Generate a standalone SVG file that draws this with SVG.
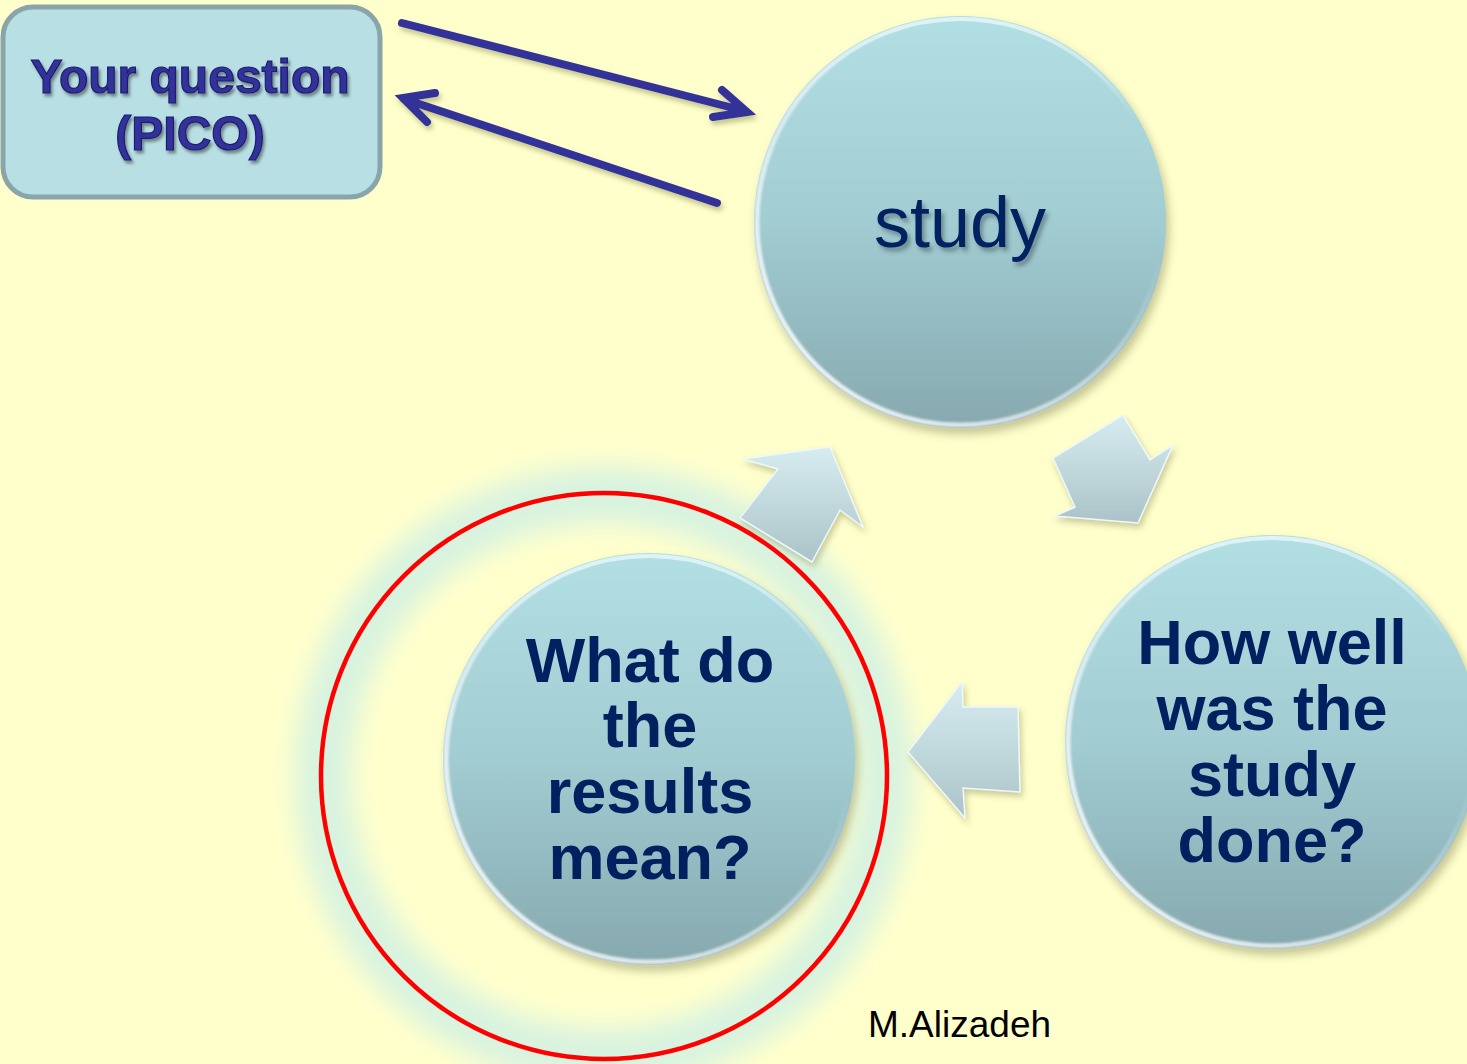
<svg xmlns="http://www.w3.org/2000/svg" width="1467" height="1064" viewBox="0 0 1467 1064">
  <defs>
    <linearGradient id="ballFill" x1="0" y1="0" x2="0" y2="1">
      <stop offset="0" stop-color="#B2DFE4"/>
      <stop offset="0.5" stop-color="#A1CCD2"/>
      <stop offset="1" stop-color="#86A9AF"/>
    </linearGradient>
    <linearGradient id="rimLight" x1="0" y1="1" x2="1" y2="0">
      <stop offset="0" stop-color="#FFFFFF" stop-opacity="0.95"/>
      <stop offset="0.45" stop-color="#FFFFFF" stop-opacity="0.5"/>
      <stop offset="0.7" stop-color="#FFFFFF" stop-opacity="0"/>
    </linearGradient>
    <linearGradient id="rimTop" x1="0" y1="0" x2="0" y2="1">
      <stop offset="0" stop-color="#E4F6F8" stop-opacity="0.9"/>
      <stop offset="0.25" stop-color="#E4F6F8" stop-opacity="0"/>
    </linearGradient>
    <linearGradient id="chevronFill" x1="0" y1="0" x2="0" y2="1">
      <stop offset="0" stop-color="#D6ECF0"/>
      <stop offset="1" stop-color="#ABC3C8"/>
    </linearGradient>
    <filter id="ballShadow" x="-20%" y="-20%" width="140%" height="140%">
      <feDropShadow dx="3" dy="6" stdDeviation="5" flood-color="#7A7A50" flood-opacity="0.45"/>
    </filter>
    <filter id="softShadow" x="-20%" y="-20%" width="140%" height="140%">
      <feDropShadow dx="2" dy="4" stdDeviation="3" flood-color="#8A8A5A" flood-opacity="0.45"/>
    </filter>
    <filter id="lineShadow" x="-10%" y="-30%" width="120%" height="160%">
      <feDropShadow dx="2" dy="4" stdDeviation="2.5" flood-color="#8C8C50" flood-opacity="0.5"/>
    </filter>
    <filter id="textShadow" x="-10%" y="-20%" width="120%" height="150%">
      <feDropShadow dx="3" dy="4" stdDeviation="2" flood-color="#2A3A40" flood-opacity="0.45"/>
    </filter>
    <filter id="embossText" x="-10%" y="-20%" width="120%" height="150%">
      <feDropShadow dx="2" dy="3" stdDeviation="1.5" flood-color="#3A4A50" flood-opacity="0.6"/>
    </filter>
    <filter id="glow" x="-30%" y="-30%" width="160%" height="160%">
      <feGaussianBlur stdDeviation="13"/>
    </filter>
    <filter id="rimBlur" x="-10%" y="-10%" width="120%" height="120%">
      <feGaussianBlur stdDeviation="1.2"/>
    </filter>
    <style>
      .ball { fill: url(#ballFill); filter: url(#ballShadow); }
      .rim { fill: none; stroke: url(#rimLight); stroke-width: 5; filter: url(#rimBlur); }
      .rimTop { fill: none; stroke: url(#rimTop); stroke-width: 4; }
      .label { font-family: "Liberation Sans", Arial, sans-serif; font-weight: bold; fill: #002060; text-anchor: middle; font-size: 63px; }
      .chevron { fill: url(#chevronFill); stroke: #EEF8FA; stroke-width: 1.5; stroke-linejoin: miter; filter: url(#softShadow); }
      .link { fill: none; stroke: #333399; stroke-width: 8; stroke-linecap: round; filter: url(#lineShadow); }
    </style>
  </defs>

  <!-- page background -->
  <rect x="0" y="0" width="1467" height="1064" fill="#FFFFCC"/>

  <!-- question box -->
  <g id="node-question">
    <rect x="3" y="7" width="377" height="190" rx="30" ry="30" fill="#B8DFE3" stroke="#8AA5AA" stroke-width="5"/>
    <g filter="url(#embossText)" font-family="Liberation Sans, Arial, sans-serif" font-weight="bold" font-size="48" text-anchor="middle" fill="#33339A" stroke="#1C1C70" stroke-width="1.2">
      <text x="190" y="93">Your question</text>
      <text x="190" y="150">(PICO)</text>
    </g>
  </g>

  <!-- study ball -->
  <g id="node-study">
    <circle class="ball" cx="960" cy="222" r="206"/>
    <circle class="rimTop" cx="960" cy="222" r="203"/>
    <circle class="rim" cx="960" cy="222" r="203"/>
    <text x="960" y="247" font-family="Liberation Sans, Arial, sans-serif" font-size="72" fill="#002060" text-anchor="middle" filter="url(#textShadow)">study</text>
  </g>

  <!-- appraisal ball -->
  <g id="node-appraisal">
    <circle class="ball" cx="1272" cy="742" r="207"/>
    <circle class="rimTop" cx="1272" cy="742" r="204"/>
    <circle class="rim" cx="1272" cy="742" r="204"/>
    <text class="label" x="1272" y="664">How well</text>
    <text class="label" x="1272" y="730">was the</text>
    <text class="label" x="1272" y="796">study</text>
    <text class="label" x="1272" y="862">done?</text>
  </g>

  <!-- highlighted results ball -->
  <g id="node-results">
    <circle cx="604" cy="776" r="281" fill="none" stroke="#D8F3E0" stroke-width="56" filter="url(#glow)"/>
    <circle class="ball" cx="649" cy="759" r="206"/>
    <circle class="rimTop" cx="649" cy="759" r="203"/>
    <circle class="rim" cx="649" cy="759" r="203"/>
    <text class="label" x="650" y="682">What do</text>
    <text class="label" x="650" y="747">the</text>
    <text class="label" x="650" y="813">results</text>
    <text class="label" x="650" y="879">mean?</text>
    <circle cx="604" cy="776" r="283" fill="none" stroke="#FF0000" stroke-width="4.5"/>
  </g>

  <!-- connectors -->
  <g id="connectors">
    <!-- question to study and back -->
    <g class="link">
      <path d="M402,23 L745,111 M722,90 L747,112 L713,117"/>
      <path d="M717,203 L404,99 M435,93 L403,98 L427,122"/>
    </g>
    <!-- cycle chevrons -->
    <polygon class="chevron" points="1053,458 1123,415 1150,460 1173,445 1138,523 1055,516 1075,507"/>
    <polygon class="chevron" points="1018,707 1020,792 963,788 965,818 908,752 962,682 963,707"/>
    <polygon class="chevron" points="812,562 740,518 778,469 743,459 830,447 863,527 840,510"/>
  </g>

  <!-- author credit -->
  <text x="868" y="1037" font-family="Liberation Sans, Arial, sans-serif" font-size="37" fill="#000000">M.Alizadeh</text>
</svg>
